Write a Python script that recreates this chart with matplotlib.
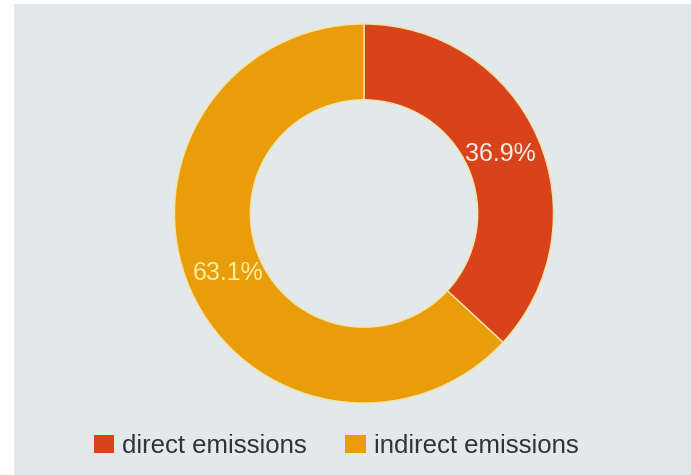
import matplotlib
matplotlib.use("Agg")
import matplotlib.pyplot as plt
from matplotlib.patches import Rectangle

# data
categories = ["direct emissions", "indirect emissions"]
shares = [36.9, 63.1]
colors = ["#d9431c", "#e99d0b"]
label_colors = ["#f7ece6", "#f6eea0"]

plt.rcParams['font.family'] = ['Liberation Sans', 'DejaVu Sans']

W, H = 691, 475
fig = plt.figure(figsize=(W / 100, H / 100), dpi=100, facecolor="white")

# light panel behind the chart, thin white strip on the left and top
fig.patches.append(Rectangle((14 / W, 0), 1 - 14 / W, 1 - 4 / H,
                             transform=fig.transFigure, facecolor="#e3e9eb",
                             edgecolor="none", zorder=-5))

# donut centre (364, 213.5) px, radius 189.5 px
cx, cy, r = 364, 213.5, 189.5
ax = fig.add_axes([(cx - r) / W, 1 - (cy + r) / H, 2 * r / W, 2 * r / H])
ax.set_facecolor("none")
ax.set_zorder(2)

wedges, texts, autotexts = ax.pie(
    shares, colors=colors, startangle=90, counterclock=False,
    autopct="%.1f%%", pctdistance=0.785,
    wedgeprops=dict(width=0.4, edgecolor="#f3e4a2", linewidth=1.0),
    textprops=dict(fontsize=18))
for t, c in zip(autotexts, label_colors):
    t.set_color(c)
ax.set_xlim(-1, 1)
ax.set_ylim(-1, 1)
ax.axis("off")

leg = fig.legend(wedges, categories, loc="center", ncol=2,
                 bbox_to_anchor=(336 / W, 1 - 446 / H), frameon=False,
                 fontsize=18.5, handlelength=0.8, handleheight=0.75,
                 handletextpad=0.3, columnspacing=1.5, borderpad=0)
leg.set_zorder(3)
for t in leg.get_texts():
    t.set_color("#333333")
for h in leg.legend_handles:
    h.set_edgecolor("none")

fig.savefig("out.png", dpi=100, facecolor=fig.get_facecolor())
